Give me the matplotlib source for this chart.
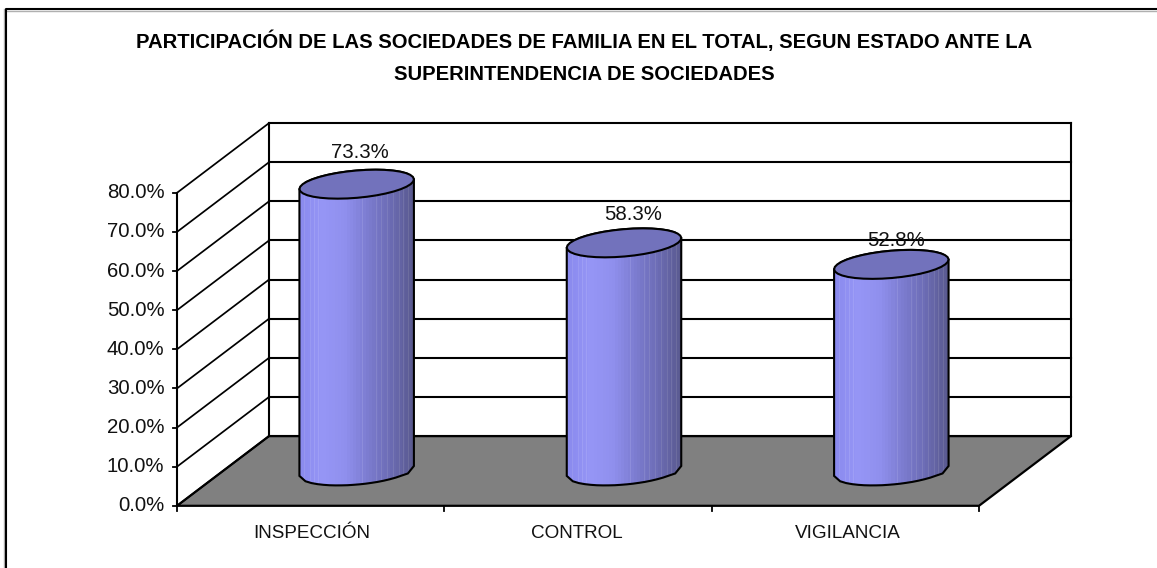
import numpy as np
import matplotlib
matplotlib.use('Agg')
import matplotlib.pyplot as plt
from matplotlib.colors import LinearSegmentedColormap
from matplotlib.patches import Polygon

categories = ['INSPECCIÓN', 'CONTROL', 'VIGILANCIA']
values = [73.3, 58.3, 52.8]
value_labels = ['73.3%', '58.3%', '52.8%']
yticks = [0, 10, 20, 30, 40, 50, 60, 70, 80]
title_lines = ['PARTICIPACIÓN DE LAS SOCIEDADES DE FAMILIA EN EL TOTAL, SEGUN ESTADO ANTE LA',
               'SUPERINTENDENCIA DE SOCIEDADES']

W, H = 1157, 568
X0, Y0 = 177, 505.8        # pixel of the front corner (first category edge, 0%)
PX_CAT = 802 / 3           # pixels per category
PX_PCT = 313 / 80          # pixels per percent
DX = 92 / PX_CAT           # depth offset in data units
DY = 69.7 / PX_PCT

plt.rcParams['font.family'] = ['Liberation Sans', 'DejaVu Sans']

fig = plt.figure(figsize=(W / 100, H / 100), dpi=100)
ax = fig.add_axes([0, 0, 1, 1])

def px_x(p):
    return (p - X0) / PX_CAT

def px_y(p):
    return (Y0 - p) / PX_PCT

xlim = (px_x(0), px_x(W))
ylim = (px_y(H), px_y(0))
ax.axis('off')

# outer frame, runs off the picture on the right and at the bottom
ax.plot([px_x(4), px_x(4)], [px_y(H), px_y(9)], color='#b0b0b0', lw=1.0)
ax.plot([px_x(5), px_x(W)], [px_y(10.8), px_y(10.8)], color='#b0b0b0', lw=1.0)
ax.plot([px_x(5.5), px_x(5.5), px_x(W)], [px_y(H), px_y(9), px_y(9)], color='black', lw=1.5)

# floor
n = len(categories)
ax.add_patch(Polygon([(0, 0), (n, 0), (n + DX, DY), (DX, DY)], fc='#808080', ec='black', lw=1.6, zorder=1))

# walls and gridlines
top = yticks[-1]
for v in yticks:
    ax.plot([0, DX], [v, v + DY], color='black', lw=1.25, zorder=1)
    ax.plot([DX, n + DX], [v + DY, v + DY], color='black', lw=1.5, zorder=1)
ax.plot([0, 0], [0, top], color='black', lw=1.5, zorder=1)
ax.plot([DX, DX], [DY, top + DY], color='black', lw=1.5, zorder=1)
ax.plot([n + DX, n + DX], [DY, top + DY], color='black', lw=1.5, zorder=1)

# ticks
for v in yticks:
    ax.plot([px_x(172.5), 0], [v, v], color='black', lw=1.3, zorder=1)
    ax.text(px_x(164.5), v, '%.1f%%' % v, ha='right', va='center', fontsize=14.7, color='#111111')
for i in range(n + 1):
    ax.plot([i, i], [0, px_y(Y0 + 5)], color='black', lw=1.3, zorder=1)
cat_px = [312, 577, 848]
for xp, c in zip(cat_px, categories):
    ax.text(px_x(xp), px_y(538), c, ha='center', va='baseline', fontsize=13.6, color='#111111')

# cylinders
body_cmap = LinearSegmentedColormap.from_list(
    'body', ['#8a8aee', '#9696f6', '#9090ee', '#7c7cd0', '#6c6cb4', '#5a5a90'])
t = np.linspace(0, 2 * np.pi, 37)
ax_x = 54 / PX_CAT         # ellipse half axis along the category direction
dep_x = 19 / PX_CAT        # ellipse half axis along the depth direction
dep_y = 14.5 / PX_PCT
grad = np.linspace(0, 1, 38).reshape(1, -1)   # coarse bands like the original
streaks = [5, 11, 15, 19, 63, 77, 82, 88, 94, 100, 104, 109]   # px from left side
for i, v in enumerate(values):
    cx = i + 0.5 + DX / 2
    base = DY / 2
    ex = ax_x * np.cos(t) + dep_x * np.sin(t)
    ey = dep_y * np.sin(t)
    left = np.argmin(ex)
    right = np.argmax(ex)
    half = np.linspace(ex.min(), ex.max(), 20)
    # lower and upper edge of the ellipse at each x, from the sampled curve
    order = np.argsort(ex[18:36])
    lower = np.interp(half, ex[18:36][order], ey[18:36][order])
    lower[0] = ey[left]
    lower[-1] = ey[right]
    order2 = np.argsort(ex[0:19])
    upper = np.interp(half, ex[0:19][order2], ey[0:19][order2])
    upper[0] = ey[left]
    upper[-1] = ey[right]
    side_x = np.r_[cx + half, (cx + half)[::-1]]
    side_y = np.r_[base + lower, (v + base + upper)[::-1]]
    clip = Polygon(np.c_[side_x, side_y], transform=ax.transData)
    img = ax.imshow(grad, extent=(cx + half[0], cx + half[-1], base - 10, v + base + 10),
                    cmap=body_cmap, aspect='auto', zorder=3, interpolation='nearest')
    img.set_clip_path(clip)
    for s in streaks:
        sx = cx + half[0] + s / PX_CAT
        ln, = ax.plot([sx, sx], [base - 10, v + base + 10], color='white', lw=0.6, alpha=0.12, zorder=3.5)
        ln.set_clip_path(clip)
    ax.add_patch(Polygon(np.c_[side_x, side_y], fc='none', ec='black', lw=1.5, zorder=4))
    ax.add_patch(Polygon(np.c_[cx + ex, v + base + ey], fc='#7272bc', ec='black', lw=1.5, zorder=5))

# value labels
label_px = [(359.5, 158), (633, 220), (896, 246)]
for (lx, ly), s in zip(label_px, value_labels):
    ax.text(px_x(lx), px_y(ly), s, ha='center', va='baseline', fontsize=14.7, color='#111111', zorder=6)

# title
ax.text(px_x(584.5), px_y(48), title_lines[0], ha='center', va='baseline', fontsize=14.6, fontweight='bold')
ax.text(px_x(584.5), px_y(80), title_lines[1], ha='center', va='baseline', fontsize=14.6, fontweight='bold')

ax.set_xlim(xlim)
ax.set_ylim(ylim)
fig.savefig('out.png', dpi=100, facecolor='white')
